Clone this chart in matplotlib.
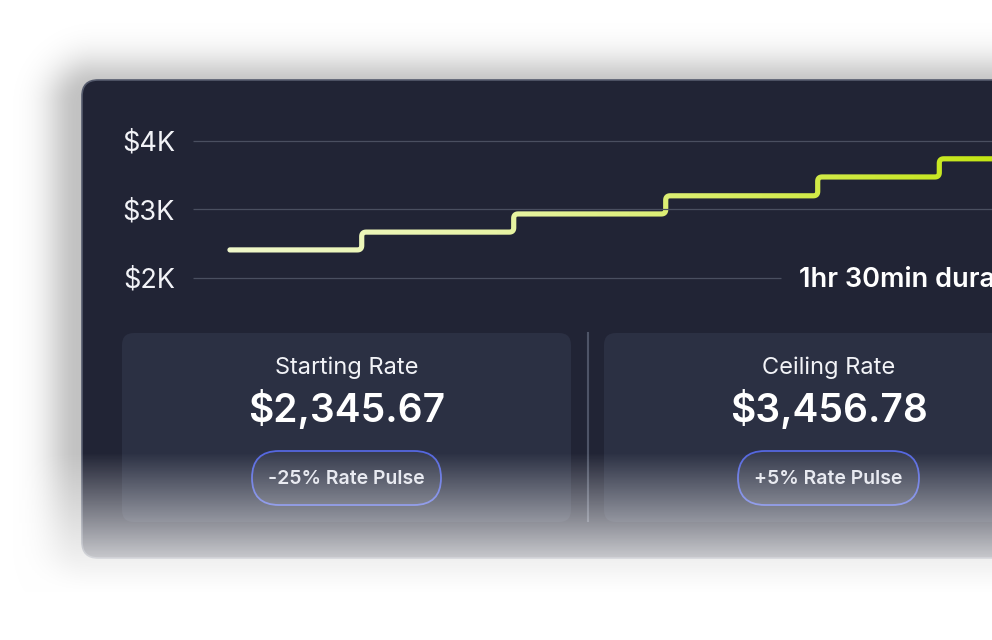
# step chart of the rate over a 1hr 30min session, drawn as a dark ui card
import matplotlib.pyplot as plt
import numpy as np
from matplotlib.colors import LinearSegmentedColormap
from matplotlib.patches import FancyBboxPatch, Polygon
from matplotlib.ticker import FuncFormatter

plt.rcParams['font.family'] = ['Inter', 'DejaVu Sans']

# data
step_minutes = [0, 13, 28, 43, 58, 70, 90]      # when each rate step starts (last = end)
step_rates = [2410, 2670, 2935, 3200, 3475, 3740]  # rate held during each step
y_ticks = [2000, 3000, 4000]
duration_label = '1hr 30min duration'
card_titles = ['Starting Rate', 'Ceiling Rate']
card_values = ['$2,345.67', '$3,456.78']
card_pulses = ['-25% Rate Pulse', '+5% Rate Pulse']

# colours
panel_color = '#212435'
card_color = '#2B3043'
grid_color = '#4A4F60'
text_color = '#F2F3F7'
pill_edge = '#5567E0'
line_cmap = LinearSegmentedColormap.from_list(
    'rate', [(0, '#F0F8CA'), (0.35, '#E8F4A6'), (0.7, '#D6EC58'), (1, '#C4E614')])

W, H = 992, 640
fig = plt.figure(figsize=(W / 100, H / 100), dpi=100, facecolor='white')

# background axes in pixel units
bg = fig.add_axes([0, 0, 1, 1])
bg.set_xlim(0, W)
bg.set_ylim(H, 0)
bg.axis('off')

# soft shadow behind the panel
yy, xx = np.mgrid[0:H, 0:W] + 0.5
x0, y0, x1, y1, r = 78, 88, 1400, 566, 16
qx = np.maximum(np.maximum(x0 + r - xx, xx - (x1 - r)), 0)
qy = np.maximum(np.maximum(y0 + r - yy, yy - (y1 - r)), 0)
dist = np.clip(np.hypot(qx, qy) - r, 0, None)
shadow = np.zeros((H, W, 4))
shadow[..., 3] = 0.24 * np.exp(-(dist / 32) ** 2)
bg.imshow(shadow, extent=[0, W, H, 0], zorder=0, aspect='auto')

# main panel
bg.add_patch(FancyBboxPatch((82, 80), 1300, 478, boxstyle='round,pad=0,rounding_size=16',
                            facecolor=panel_color, edgecolor='#555B6D', lw=1.2, zorder=1))

# two cards and a divider
card_left = [122, 604]
card_w = 449
for i in range(2):
    cx = card_left[i] + card_w / 2
    bg.add_patch(FancyBboxPatch((card_left[i], 333), card_w, 189,
                                boxstyle='round,pad=0,rounding_size=12',
                                facecolor=card_color, edgecolor='none', zorder=2))
    bg.text(cx, 368, card_titles[i], color=text_color, fontsize=17, ha='center', va='center', zorder=3)
    bg.text(cx, 410, card_values[i], color='white', fontsize=28, fontweight='semibold',
            ha='center', va='center', zorder=3)
    pw = 189 if i == 0 else 181
    bg.add_patch(FancyBboxPatch((cx - pw / 2, 451), pw, 54,
                                boxstyle='round,pad=0,rounding_size=27',
                                facecolor=(1, 1, 1, 0.06), edgecolor=pill_edge, lw=1.3, zorder=3))
    bg.text(cx, 479, card_pulses[i], color='#E4E6EE', fontsize=14, fontweight='semibold',
            ha='center', va='center', zorder=4)
bg.plot([588, 588], [333, 521], color='#4E5467', lw=1.5, zorder=2)

# chart axes: x in minutes, y in dollars
xlim = (-3.65, 75.2)
ax = fig.add_axes([193 / W, 1 - 278 / H, (W - 193) / W, 137 / H], zorder=5)
ax.patch.set_alpha(0)
for s in ax.spines.values():
    s.set_visible(False)
ax.set_xlim(*xlim)
ax.set_ylim(2000, 4000)
ax.set_xticks([])
ax.set_yticks(y_ticks)
ax.yaxis.set_major_formatter(FuncFormatter(lambda v, p: '$%dK' % (v / 1000)))
ax.tick_params(axis='y', length=0, pad=13, labelsize=19.5, labelcolor=text_color)

# grid lines, the $2K one stops before the duration label
ax.hlines(y_ticks[1:], xlim[0], xlim[1], color=grid_color, lw=0.9, clip_on=False)
ax.hlines(y_ticks[0], xlim[0], 54.4, color=grid_color, lw=0.9, clip_on=False)
ax.text(56.2, 1975, duration_label, color='white', fontsize=19.5, fontweight='semibold',
        ha='left', va='center', clip_on=False)

# step path (post steps), corners rounded in pixel space
px, py = [], []
for i in range(len(step_rates)):
    px += [step_minutes[i], step_minutes[i + 1]]
    py += [step_rates[i], step_rates[i]]
pts = ax.transData.transform(np.column_stack([px, py]))
rad = 4.5
path = [pts[0]]
for i in range(1, len(pts) - 1):
    a, b, c = pts[i - 1], pts[i], pts[i + 1]
    d_in = (b - a) / np.linalg.norm(b - a)
    d_out = (c - b) / np.linalg.norm(c - b)
    p0, p2 = b - d_in * rad, b + d_out * rad
    for t in np.linspace(0, 1, 10):
        path.append((1 - t) ** 2 * p0 + 2 * (1 - t) * t * b + t ** 2 * p2)
path.append(pts[-1])
P = np.array(path)

# outline of the stroke (5px wide) so a gradient can be clipped to it
hw = 2.6
tang = np.gradient(P, axis=0)
tang /= np.linalg.norm(tang, axis=1)[:, None]
norm = np.column_stack([-tang[:, 1], tang[:, 0]])
left = P + norm * hw
right = P - norm * hw
th = np.arctan2(norm[0, 1], norm[0, 0])
ang = np.linspace(th + np.pi, th, 16)
cap = P[0] + hw * np.column_stack([np.cos(ang), np.sin(ang)])
outline = np.vstack([left, right[::-1], cap])
outline = ax.transData.inverted().transform(outline)
clip = Polygon(outline, closed=True, transform=ax.transData)

# horizontal colour gradient (pale at the start, lime by 75 min), shown only inside the stroke
gx = np.linspace(-2, 90, 500)
grad = np.clip(gx / 75, 0, 1)[None, :]
im = ax.imshow(grad, cmap=line_cmap, extent=[-2, 90, 2000, 4000], aspect='auto',
               interpolation='bilinear', origin='lower', vmin=0, vmax=1)
im.set_clip_path(clip)
ax.set_xlim(*xlim)
ax.set_ylim(2000, 4000)

# white fade over the bottom of the card
top = fig.add_axes([0, 0, 1, 1], zorder=20)
top.axis('off')
fade = np.ones((H, 1, 4))
fade[:, 0, 3] = np.clip((np.arange(H) - 452) / 140, 0, 1)
top.imshow(fade, extent=[0, W, H, 0], aspect='auto')
top.set_xlim(0, W)
top.set_ylim(H, 0)

fig.savefig('out.png', dpi=100, facecolor='white')
